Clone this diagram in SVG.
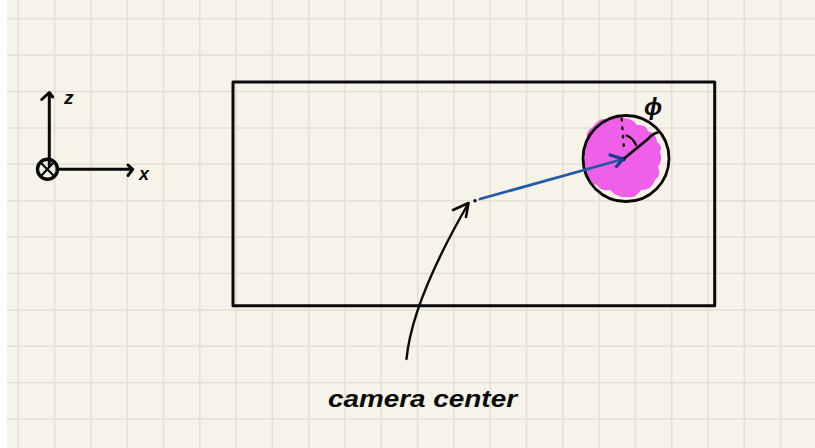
<svg xmlns="http://www.w3.org/2000/svg" width="815" height="448" viewBox="0 0 815 448">
<style>
.grid line{stroke:#e3e0d3;stroke-width:1.5}
.ink{fill:none;stroke:#0a0a0a;stroke-linecap:round;stroke-linejoin:round}
.hand{font-family:"Liberation Sans","DejaVu Sans",sans-serif;font-style:italic;font-weight:bold;fill:#0a0a0a}
</style>
<rect x="0" y="0" width="815" height="448" fill="#ffffff"/>
<rect x="7" y="0" width="808" height="448" fill="#f6f4e8"/>
<g class="grid" id="grid">
<line x1="18.3" y1="0" x2="18.3" y2="448"/><line x1="54.6" y1="0" x2="54.6" y2="448"/><line x1="90.9" y1="0" x2="90.9" y2="448"/><line x1="127.2" y1="0" x2="127.2" y2="448"/><line x1="163.5" y1="0" x2="163.5" y2="448"/><line x1="199.8" y1="0" x2="199.8" y2="448"/><line x1="236.1" y1="0" x2="236.1" y2="448"/><line x1="272.4" y1="0" x2="272.4" y2="448"/><line x1="308.7" y1="0" x2="308.7" y2="448"/><line x1="345" y1="0" x2="345" y2="448"/><line x1="381.3" y1="0" x2="381.3" y2="448"/><line x1="417.6" y1="0" x2="417.6" y2="448"/><line x1="453.9" y1="0" x2="453.9" y2="448"/><line x1="490.2" y1="0" x2="490.2" y2="448"/><line x1="526.5" y1="0" x2="526.5" y2="448"/><line x1="562.8" y1="0" x2="562.8" y2="448"/><line x1="599.1" y1="0" x2="599.1" y2="448"/><line x1="635.4" y1="0" x2="635.4" y2="448"/><line x1="671.7" y1="0" x2="671.7" y2="448"/><line x1="708" y1="0" x2="708" y2="448"/><line x1="744.3" y1="0" x2="744.3" y2="448"/><line x1="780.6" y1="0" x2="780.6" y2="448"/>
<line x1="7" y1="18.7" x2="815" y2="18.7"/><line x1="7" y1="55.1" x2="815" y2="55.1"/><line x1="7" y1="91.5" x2="815" y2="91.5"/><line x1="7" y1="127.9" x2="815" y2="127.9"/><line x1="7" y1="164.3" x2="815" y2="164.3"/><line x1="7" y1="200.7" x2="815" y2="200.7"/><line x1="7" y1="237.1" x2="815" y2="237.1"/><line x1="7" y1="273.5" x2="815" y2="273.5"/><line x1="7" y1="309.9" x2="815" y2="309.9"/><line x1="7" y1="346.3" x2="815" y2="346.3"/><line x1="7" y1="382.7" x2="815" y2="382.7"/><line x1="7" y1="419.1" x2="815" y2="419.1"/>
</g>
<g id="axes">
<path class="ink" stroke-width="3" d="M49.3,166 L49.3,93 M41.7,99.5 L49.3,92.5 L52.7,97"/>
<path class="ink" stroke-width="3" d="M57,169.3 L132.5,169.3 M128,165 L132.7,169.3 L128,175.5"/>
<circle cx="47.5" cy="169.3" r="10" class="ink" stroke-width="3.4"/>
<path class="ink" stroke-width="2.2" d="M42,164 L53,175 M53,163 L42,175"/>
<text class="hand" x="64" y="104" font-size="19">z</text>
<text class="hand" x="139" y="180" font-size="18">x</text>
</g>
<g id="image-frame">
<rect x="233" y="82" width="481.7" height="223.7" class="ink" stroke-width="3"/>
</g>
<g id="blob">
<path fill="#ef5fe8" d="M593,126.7 Q600,116 608,120 Q616,113 624,118 Q632,118 637,125 Q646,124 648,131 Q657,134 657,142 Q663,146 660,152 Q663,160 658,167 Q662,175 655,180 Q652,190 641,190 Q635,199 627,197 Q617,198 610,190 Q601,192 597,185 Q587,183 587,173 Q580,165 585,157 Q581,148 587,140 Q585,131 593,126.7 Z"/>
<circle cx="626" cy="158.5" r="43" class="ink" stroke-width="2.8"/>
<line x1="621.7" y1="119" x2="624" y2="150" class="ink" stroke-width="2.4" stroke-dasharray="1.5 7"/>
<path class="ink" stroke-width="2.4" d="M626.7,135.5 Q633,138 636,145"/>
<path class="ink" stroke-width="2.8" d="M623.5,159 L648,139 Q652,134 657.5,132.5"/>
<circle cx="623.5" cy="159" r="2.2" fill="#0a0a0a"/>
<text class="hand" x="653" y="115" font-size="24" text-anchor="middle">ϕ</text>
</g>
<g id="camera-center">
<circle cx="475" cy="200.7" r="1.7" fill="#0a0a0a"/>
<text class="hand" x="328" y="407" font-size="23" textLength="189" lengthAdjust="spacingAndGlyphs">camera center</text>
</g>
<g id="connectors">
<path d="M480,199 L620,160" fill="none" stroke="#1f5ba8" stroke-width="2.8" stroke-linecap="round"/>
<path d="M610,155 L623,159 L616.5,166.5" fill="none" stroke="#1b3c8c" stroke-width="3.2" stroke-linecap="round" stroke-linejoin="round"/>
<path class="ink" stroke-width="2.4" d="M406.5,359 C410,322 430,270 468,204"/>
<path class="ink" stroke-width="2.6" d="M453,210 L468.5,203 L466,217"/>
</g>
</svg>
